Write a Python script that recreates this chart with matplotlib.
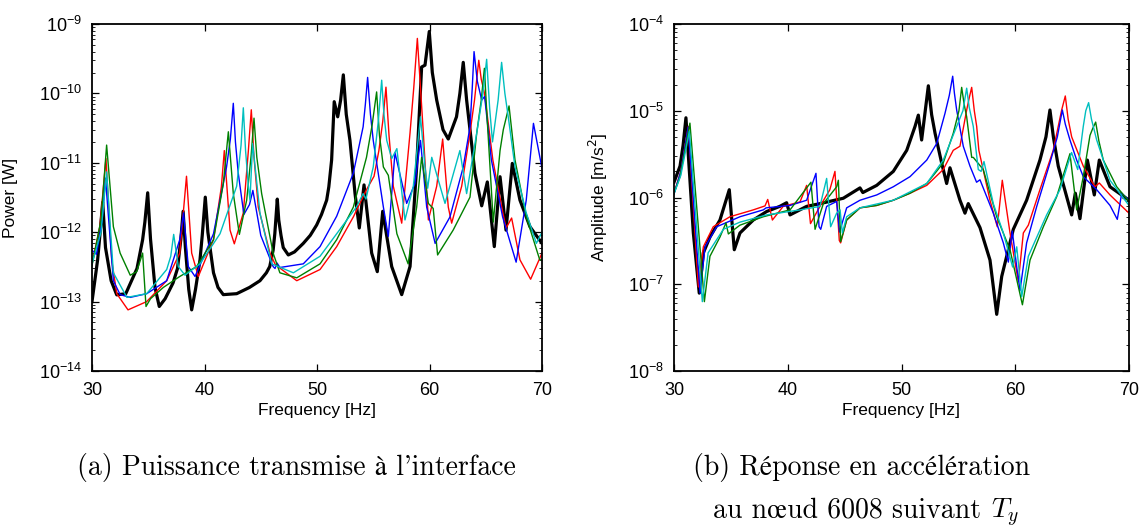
import numpy as np
import matplotlib
matplotlib.use('Agg')
import matplotlib.pyplot as plt
from matplotlib.ticker import LogLocator, NullFormatter

plt.rcParams['font.family'] = ['Liberation Sans', 'DejaVu Sans']
plt.rcParams['font.size'] = 13

# ---------------- (a) Transmitted power [W]: (frequency Hz, value) ----------------
pa_black = [(30, 1.0e-13), (30.5, 4e-13), (30.7, 9e-13), (30.95, 2.7e-12), (31.2, 6e-13), (31.7, 2e-13),
            (32.2, 1.25e-13), (33.0, 1.3e-13), (34.0, 3e-13), (34.5, 7.8e-13), (34.7, 1.4e-12),
            (34.95, 3.7e-12), (35.2, 8e-13), (35.6, 1.6e-13), (35.98, 8.5e-14), (36.5, 1.1e-13),
            (37.2, 1.85e-13), (37.6, 3e-13), (37.9, 8e-13), (38.1, 2.0e-12), (38.3, 6e-13), (38.6, 1.5e-13),
            (38.86, 7.6e-14), (39.2, 1.5e-13), (39.6, 4e-13), (39.8, 9e-13), (40.07, 3.2e-12), (40.3, 1e-12),
            (40.8, 2.6e-13), (41.2, 1.6e-13), (41.67, 1.26e-13), (42.86, 1.3e-13), (44.0, 1.6e-13),
            (44.93, 2.0e-13), (45.5, 2.6e-13), (45.8, 3.2e-13), (46.1, 5.5e-13), (46.25, 9.5e-13),
            (46.47, 3.0e-12), (46.6, 1.5e-12), (46.8, 9e-13), (47.0, 6e-13), (47.45, 4.7e-13), (48.0, 5.2e-13),
            (48.78, 6.9e-13), (49.4, 9e-13), (49.97, 1.27e-12), (50.4, 1.8e-12), (50.86, 2.9e-12),
            (51.05, 4.5e-12), (51.3, 1.1e-11), (51.53, 7.6e-11), (51.84, 4.6e-11), (52.1, 8e-11),
            (52.34, 1.85e-10), (52.6, 5e-11), (52.93, 2.1e-11), (53.38, 3.6e-12), (53.76, 1.15e-12),
            (54.18, 4.8e-12), (54.86, 5.0e-13), (55.36, 2.7e-13), (55.84, 2.0e-12), (56.64, 3.2e-13),
            (57.53, 1.26e-13), (58.27, 3.2e-13), (58.86, 8.8e-12), (59.3, 2.4e-10), (59.6, 2.55e-10),
            (59.98, 7.8e-10), (60.25, 2e-10), (60.64, 8e-11), (61.2, 3e-11), (61.67, 2.2e-11), (62.4, 4.6e-11),
            (62.7, 1e-10), (63.0, 2.8e-10), (63.3, 8e-11), (63.6, 3.0e-11), (64.04, 7.1e-12), (64.64, 2.4e-12),
            (65.14, 5.3e-12), (65.76, 6.2e-13), (66.27, 6.3e-12), (66.8, 1.07e-12), (67.36, 9.8e-12),
            (68.04, 2.9e-12), (68.93, 1.2e-12), (70, 6.9e-13)]

pa_red = [(30, 3.5e-13), (30.7, 1.2e-12), (31.24, 1.15e-11), (31.75, 4e-13), (32.2, 1.3e-13), (33.2, 7.6e-14),
          (34.86, 1.0e-13), (36.64, 2.0e-13), (37.8, 5.0e-13), (38.4, 6.4e-12), (38.86, 5.0e-13),
          (39.45, 2.3e-13), (40.8, 7.8e-13), (41.5, 4.5e-12), (41.76, 1.5e-11), (42.27, 1.07e-12),
          (42.65, 6.8e-13), (43.45, 1.9e-12), (43.9, 1.5e-11), (44.16, 5.8e-11), (44.4, 1.2e-11),
          (44.78, 2.3e-12), (45.82, 5.0e-13), (46.3, 3.4e-13), (48.2, 2.0e-13), (50.27, 2.9e-13),
          (51.75, 6.2e-13), (53.23, 1.66e-12), (54.4, 4.1e-12), (55.07, 6.4e-12), (55.5, 1.5e-11),
          (55.85, 4e-11), (56.13, 1.23e-10), (56.4, 2.5e-11), (56.78, 4.6e-12), (57.53, 1.35e-12),
          (58.27, 2.7e-11), (58.6, 1.2e-10), (58.92, 6.2e-10), (59.2, 1.2e-10), (59.45, 2.7e-11),
          (59.9, 1.5e-12), (60.64, 4.6e-12), (61.17, 2.2e-11), (61.67, 2.3e-12), (61.97, 1.35e-12),
          (62.86, 4.6e-12), (63.6, 2.7e-11), (64.0, 8e-11), (64.38, 3.0e-10), (64.6, 1.6e-10),
          (64.89, 1.0e-10), (65.63, 1.1e-11), (66.52, 1.9e-12), (66.81, 1.15e-12), (67.3, 1.6e-12),
          (68.04, 4.0e-13), (68.99, 2.1e-13), (70, 5.0e-13)]

pa_blue = [(30, 5.5e-13), (30.4, 4.8e-13), (30.9, 1.5e-12), (31.2, 6e-12), (31.9, 2.0e-13), (32.5, 1.26e-13),
           (33.4, 1.15e-13), (34.86, 1.3e-13), (36.64, 2.0e-13), (37.8, 7.8e-13), (38.14, 1.9e-12),
           (38.56, 3.2e-13), (39.16, 2.3e-13), (40.8, 9.5e-13), (41.96, 8.7e-12), (42.3, 2.2e-11),
           (42.56, 7.2e-11), (42.75, 2e-11), (43.0, 7.1e-12), (43.5, 1.8e-12), (44.0, 2.5e-12), (44.3, 4e-12),
           (45.0, 9e-13), (46.1, 3.2e-13), (46.27, 3.0e-13), (46.45, 3.6e-13), (46.7, 3.1e-13),
           (48.78, 3.5e-13), (50.27, 6.2e-13), (51.75, 1.7e-12), (53.23, 7.1e-12), (54.1, 3.3e-11),
           (54.3, 7e-11), (54.5, 1.7e-10), (54.75, 5e-11), (55.0, 2.1e-11), (55.9, 2.3e-12), (56.34, 8.7e-13),
           (56.93, 1.4e-11), (57.97, 2.6e-12), (58.7, 5e-12), (59.2, 2.1e-11), (59.75, 2.3e-12),
           (60.5, 6.9e-13), (61.82, 1.66e-12), (63.0, 8.7e-12), (63.6, 3.3e-11), (63.8, 1.2e-10),
           (63.96, 4.0e-10), (64.25, 1.5e-10), (64.64, 8e-11), (64.9, 9e-11), (65.5, 1.1e-11),
           (66.5, 1.66e-12), (67.7, 3.7e-13), (68.6, 2.9e-12), (69.24, 3.7e-11), (70, 8.3e-12)]

pa_green = [(30, 3.3e-13), (30.8, 1.5e-12), (31.3, 1.8e-11), (31.9, 1.2e-12), (32.5, 5.0e-13), (33.4, 2.4e-13),
            (33.97, 2.7e-13), (34.5, 5.0e-13), (34.8, 8.5e-14), (35.2, 1.1e-13), (36.34, 1.6e-13),
            (37.8, 2.3e-13), (39.3, 3.2e-13), (40.8, 7.8e-13), (41.67, 5.0e-12), (42.12, 2.8e-11),
            (42.56, 3.6e-12), (43.1, 9.3e-13), (43.75, 2.9e-12), (44.15, 1.3e-11), (44.4, 4.4e-11),
            (44.65, 1.2e-11), (45.08, 3.6e-12), (46.1, 5.0e-13), (46.7, 2.6e-13), (48.2, 2.2e-13),
            (50.27, 3.5e-13), (51.75, 7.8e-13), (53.23, 2.3e-12), (54.4, 1.2e-11), (54.9, 3.5e-11),
            (55.3, 1.05e-10), (55.55, 2.5e-11), (55.9, 8.7e-12), (56.34, 6.6e-12), (57.1, 9.5e-13),
            (58.1, 3.5e-13), (58.86, 2.3e-12), (59.3, 1.2e-11), (59.9, 2.6e-12), (60.33, 2.2e-12),
            (60.72, 4.7e-13), (62.1, 1.07e-12), (63.6, 3.2e-12), (64.2, 2.7e-11), (64.6, 8e-11),
            (64.88, 2.3e-10), (65.1, 5e-11), (65.38, 8.7e-12), (65.67, 1.4e-12), (66.27, 1.5e-11),
            (66.56, 3.0e-11), (67.07, 6.6e-11), (67.6, 1.1e-11), (68.6, 1.66e-12), (69.8, 4.0e-13), (70, 4.0e-13)]

pa_cyan = [(30, 3.5e-13), (30.8, 1e-12), (31.3, 7.4e-12), (31.9, 2.6e-13), (33.1, 1.15e-13), (34.86, 1.3e-13),
           (36.64, 2.9e-13), (37.0, 4.5e-13), (37.26, 9.3e-13), (37.67, 3.2e-13), (38.27, 2.4e-13),
           (39.6, 3.5e-13), (41.38, 9.5e-13), (42.86, 4.6e-12), (43.25, 1.8e-11), (43.45, 6.2e-11),
           (43.65, 1.5e-11), (43.9, 4.6e-12), (44.04, 2.9e-12), (44.28, 1.9e-11), (44.93, 1.9e-12),
           (45.97, 3.5e-13), (47.9, 2.6e-13), (50.27, 4.5e-13), (51.75, 9.5e-13), (53.5, 2.3e-12),
           (54.1, 3.6e-12), (54.35, 3.0e-12), (55.0, 8.7e-12), (55.45, 4e-11), (55.75, 1.55e-10),
           (55.95, 5e-11), (56.2, 2.1e-11), (56.64, 1.15e-11), (57.1, 1.6e-11), (57.82, 1.5e-12),
           (58.56, 4.6e-12), (59.2, 4.6e-11), (59.6, 8.7e-12), (59.84, 4.3e-12), (60.2, 1.2e-11),
           (61.38, 2.6e-12), (62.7, 1.5e-11), (63.3, 3.6e-12), (64.2, 2.7e-11), (64.75, 1e-10),
           (65.08, 3.1e-10), (65.35, 6e-11), (65.6, 2.0e-11), (66.1, 8e-11), (66.41, 2.8e-10), (66.7, 1e-10),
           (67.0, 4.6e-11), (67.6, 8.7e-12), (68.6, 1.9e-12), (69.5, 6.9e-13), (70, 1.0e-12)]

# ---------------- (b) Acceleration amplitude [m/s^2]: (frequency Hz, value) ----------------
pb_black = [(30, 1.5e-6), (30.53, 2.3e-6), (30.8, 4e-6), (31.05, 8.3e-6), (31.7, 3.9e-7), (32.22, 7.9e-8),
            (32.58, 2.3e-7), (33.16, 3.5e-7), (34.04, 5.5e-7), (34.86, 1.23e-6), (35.3, 2.5e-7),
            (35.8, 3.9e-7), (36.97, 5.5e-7), (38.15, 6.9e-7), (39.3, 7.9e-7), (39.9, 8.7e-7), (40.2, 6.3e-7),
            (41.66, 7.9e-7), (42.83, 8.5e-7), (44.88, 9.8e-7), (46.35, 1.29e-6), (46.6, 1.14e-6),
            (47.82, 1.38e-6), (49.28, 2.0e-6), (50.46, 3.5e-6), (51.19, 6.6e-6), (51.48, 8.9e-6),
            (51.77, 4.6e-6), (52.36, 1.94e-5), (52.65, 9e-6), (52.95, 5.5e-6), (53.53, 2.5e-6),
            (53.97, 1.45e-6), (54.26, 2.2e-6), (55.14, 9.3e-7), (55.58, 6.6e-7), (55.87, 8.5e-7),
            (56.9, 4.5e-7), (57.78, 1.9e-7), (58.37, 4.5e-8), (58.81, 1.23e-7), (59.83, 4.3e-7),
            (61.0, 9.3e-7), (62.17, 2.7e-6), (62.7, 5e-6), (63.05, 1.02e-5), (63.35, 5e-6), (63.78, 2.3e-6),
            (64.96, 6.3e-7), (65.28, 1.12e-6), (65.69, 5.7e-7), (66.34, 2.7e-6), (66.95, 1.07e-6),
            (67.39, 2.7e-6), (68.33, 1.33e-6), (70, 9.3e-7)]

pb_red = [(30, 1.12e-6), (30.6, 2e-6), (31.26, 6.6e-6), (32.14, 9.3e-8), (32.58, 2.7e-7), (33.45, 4.6e-7),
          (34.92, 6.0e-7), (36.97, 7.2e-7), (38.0, 8e-7), (38.24, 9.5e-7), (38.65, 5.5e-7), (39.6, 7.9e-7),
          (41.08, 8.9e-7), (41.66, 1.38e-6), (42.0, 5.0e-7), (42.83, 7.9e-7), (43.7, 1.23e-6),
          (44.15, 2.0e-6), (44.53, 3.2e-7), (44.65, 3.0e-7), (45.18, 5.5e-7), (46.35, 7.6e-7),
          (47.82, 8.1e-7), (49.28, 9.3e-7), (50.75, 1.12e-6), (52.22, 1.38e-6), (53.67, 2.1e-6),
          (54.55, 3.5e-6), (55.14, 3.9e-6), (55.73, 1.02e-5), (55.95, 1.4e-5), (56.17, 1.86e-5),
          (56.4, 1e-5), (56.61, 6.6e-6), (56.8, 3.5e-6), (57.78, 9.3e-7), (58.42, 4.6e-7), (58.86, 1.58e-6),
          (59.54, 3.9e-7), (60.27, 1.07e-7), (60.71, 3.9e-7), (61.15, 4.8e-7), (62.17, 1.23e-6),
          (63.34, 3.5e-6), (64.08, 1.02e-5), (64.4, 1.48e-5), (64.65, 8e-6), (64.96, 5.0e-6),
          (65.98, 2.3e-6), (67.0, 1.33e-6), (67.39, 1.47e-6), (68.33, 1.07e-6), (70, 6.6e-7)]

pb_blue = [(30, 1.1e-6), (30.6, 2e-6), (31.25, 6.5e-6), (32.29, 7.9e-8), (32.73, 2.7e-7), (33.75, 4.6e-7),
           (35.8, 6.0e-7), (37.85, 7.2e-7), (38.1, 7.6e-7), (40.2, 8.1e-7), (41.66, 9.3e-7), (42.48, 1.9e-6),
           (42.75, 4.6e-7), (42.9, 4.3e-7), (43.42, 7.9e-7), (44.3, 9e-7), (44.55, 4e-7), (45.18, 7.6e-7),
           (46.35, 9.3e-7), (47.82, 1.07e-6), (49.28, 1.33e-6), (50.75, 1.74e-6), (52.22, 2.7e-6),
           (53.1, 4.2e-6), (53.82, 9.3e-6), (54.2, 1.5e-5), (54.5, 2.5e-5), (54.65, 1.6e-5), (54.85, 1.02e-5),
           (55.43, 3.9e-6), (56.02, 2.3e-6), (56.6, 1.5e-6), (56.9, 1.6e-6), (58.07, 6.6e-7), (58.95, 3.0e-7),
           (59.39, 1.8e-7), (59.74, 4.1e-7), (60.13, 1.58e-7), (60.42, 8.5e-8), (61.0, 3.0e-7),
           (61.89, 7.9e-7), (63.05, 2.5e-6), (63.7, 5e-6), (64.14, 1.02e-5), (64.4, 7e-6), (64.81, 4.6e-6),
           (65.4, 2.7e-6), (65.98, 1.74e-6), (67.16, 1.23e-6), (68.33, 8.1e-7), (68.97, 5.6e-7),
           (69.36, 1.12e-6), (70, 9.3e-7)]

pb_green = [(30, 1.12e-6), (30.53, 1.74e-6), (31.4, 7.2e-6), (32.67, 6.3e-8), (33.16, 2.1e-7), (34.04, 3.5e-7),
            (34.57, 5.1e-7), (34.78, 3.8e-7), (35.8, 4.8e-7), (37.85, 6.0e-7), (40.2, 7.2e-7), (42.04, 1.5e-6),
            (42.4, 4.3e-7), (43.13, 8.5e-7), (44.3, 1.33e-6), (44.45, 1.58e-6), (44.65, 3.1e-7),
            (45.18, 5.5e-7), (46.35, 7.6e-7), (47.82, 8.1e-7), (49.28, 9.3e-7), (50.75, 1.12e-6),
            (52.22, 1.45e-6), (53.67, 2.5e-6), (54.55, 5.5e-6), (55.05, 1e-5), (55.29, 1.86e-5),
            (55.5, 1.2e-5), (55.73, 8.5e-6), (56.17, 2.9e-6), (56.31, 2.9e-6), (57.19, 2.1e-6), (58.37, 6.0e-7),
            (59.54, 2.5e-7), (60.63, 5.8e-8), (61.3, 1.9e-7), (62.47, 4.6e-7), (63.64, 1.02e-6),
            (64.81, 3.2e-6), (65.4, 7.2e-7), (65.98, 1.74e-6), (66.57, 5.2e-6), (66.8, 6.2e-6), (67.07, 7.4e-6),
            (67.35, 4.5e-6), (67.74, 2.7e-6), (68.92, 1.33e-6), (70, 9.0e-7)]

pb_cyan = [(30, 1.1e-6), (30.6, 1.8e-6), (31.35, 5.8e-6), (32.49, 6.3e-8), (33.0, 2.3e-7), (34.34, 4.3e-7),
           (35.8, 5.2e-7), (38.15, 6.3e-7), (41.08, 7.2e-7), (42.83, 7.9e-7), (43.42, 1.66e-6), (43.77, 4.6e-7),
           (44.3, 6.6e-7), (44.6, 7.2e-7), (44.8, 3.9e-7), (45.18, 6.0e-7), (46.35, 7.6e-7), (49.28, 9.3e-7),
           (52.22, 1.45e-6), (53.67, 2.7e-6), (54.85, 6.6e-6), (55.4, 1e-5), (55.73, 1.82e-5), (55.95, 1.1e-5),
           (56.31, 6.6e-6), (56.75, 2.1e-6), (57.0, 2.0e-6), (57.25, 2.6e-6), (58.07, 8.5e-7), (58.95, 3.9e-7),
           (59.77, 1.58e-7), (60.13, 2.7e-7), (60.57, 7.2e-8), (61.15, 2.1e-7), (62.76, 6.3e-7),
           (63.93, 1.23e-6), (64.81, 2.9e-6), (64.95, 3.3e-6), (65.49, 2.1e-6), (65.98, 6.6e-6),
           (66.2, 1e-5), (66.45, 1.24e-5), (66.7, 8e-6), (67.16, 4.6e-6), (68.33, 1.58e-6), (70, 8.1e-7)]

xticks = [30, 40, 50, 60, 70]
caption_a = "(a) Puissance transmise à l'interface"
caption_b1 = "(b) Réponse en accélération"
caption_b2 = "au nœud 6008 suivant "
caption_b2_math = "$T_y$"

W, H = 1142, 527
fig = plt.figure(figsize=(W / 100, H / 100), dpi=100)
ax1 = fig.add_axes([92 / W, 156 / H, 450 / W, 347 / H])
ax2 = fig.add_axes([674 / W, 156 / H, 455 / W, 347 / H])

C_RED = (1, 0, 0)
C_BLUE = (0, 0, 1)
C_GREEN = (0, 0.5, 0)
C_CYAN = (0, 0.75, 0.75)


def draw(ax, series):
    styles = [('k', 2.3), (C_RED, 1.0), (C_BLUE, 1.0), (C_GREEN, 1.0), (C_CYAN, 1.0)]
    for pts, (col, lw) in zip(series, styles):
        f = [p[0] for p in pts]
        v = [p[1] for p in pts]
        ax.plot(f, v, color=col, lw=lw, solid_joinstyle='round')


draw(ax1, [pa_black, pa_red, pa_blue, pa_green, pa_cyan])
draw(ax2, [pb_black, pb_red, pb_blue, pb_green, pb_cyan])

for ax in (ax1, ax2):
    ax.set_yscale('log')
    ax.set_xlim(30, 70)
    ax.set_xticks(xticks)
    ax.set_xticklabels([str(t) for t in xticks])
    ax.yaxis.set_major_locator(LogLocator(base=10, numticks=20))
    ax.yaxis.set_minor_locator(LogLocator(base=10, subs=np.arange(2, 10), numticks=20))
    ax.yaxis.set_minor_formatter(NullFormatter())
    ax.tick_params(which='both', direction='in', top=True, right=True, labelsize=13)
    ax.tick_params(which='major', length=5, width=0.9)
    ax.tick_params(which='minor', length=2.5, width=0.6)
    ax.tick_params(axis='x', pad=8)
    ax.tick_params(axis='y', pad=7)
    for s in ax.spines.values():
        s.set_linewidth(1.3)
    ax.set_xlabel('Frequency [Hz]', fontsize=12.5)
    ax.xaxis.set_label_coords(0.5, -0.092)

ax1.set_ylim(1e-14, 1e-9)
ax2.set_ylim(1e-8, 1e-4)
ax1.set_ylabel('Power [W]', fontsize=12.5)
ax1.yaxis.set_label_coords(-0.164, 0.5)
ax2.set_ylabel('Amplitude [m/s$^2$]', fontsize=12.5)
ax2.yaxis.set_label_coords(-0.141, 0.5)

cap_font = ['cmr10', 'STIXGeneral', 'DejaVu Serif']
cap_size = 20
fig.text(296 / W, 1 - 475 / H, caption_a, family=cap_font, fontsize=cap_size, ha='center', va='baseline')
fig.text(862 / W, 1 - 475 / H, caption_b1, family=cap_font, fontsize=cap_size, ha='center', va='baseline')

renderer = fig.canvas.get_renderer()
t2 = fig.text(0, 1 - 518 / H, caption_b2, family=cap_font, fontsize=cap_size, ha='left', va='baseline')
t3 = fig.text(0, 1 - 518 / H, caption_b2_math, fontsize=cap_size, math_fontfamily='cm', ha='left',
              va='baseline')
w2 = t2.get_window_extent(renderer).width
w3 = t3.get_window_extent(renderer).width
x0 = 866 - (w2 + w3) / 2
t2.set_x(x0 / W)
t3.set_x((x0 + w2) / W)

fig.savefig('out.png', dpi=100)
